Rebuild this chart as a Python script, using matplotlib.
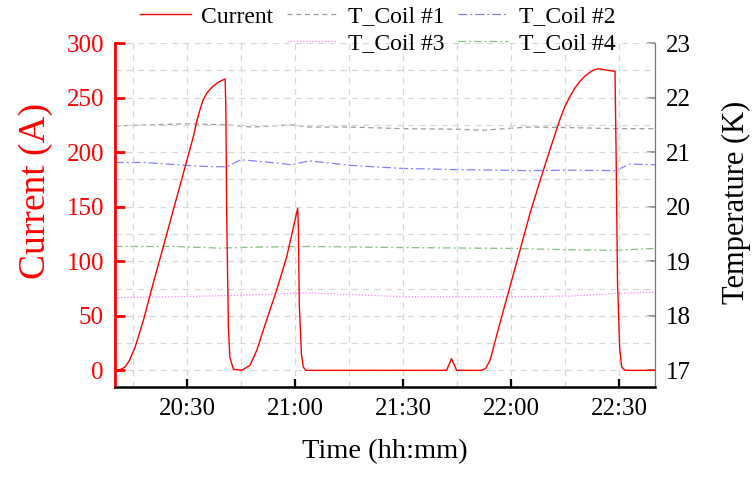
import matplotlib
matplotlib.use("Agg")
import matplotlib.pyplot as plt
import matplotlib.dates as mdates
from matplotlib.lines import Line2D
import pandas as pd

plt.rcParams["font.family"] = ["Liberation Serif", "DejaVu Serif"]

BASE = pd.Timestamp("2000-01-01 20:10")

# current, minutes after 20:10 and amps
cur_min = [0, 1, 2, 2.8, 4, 5.6, 7.9, 10.6, 13.4, 16.2, 19, 21.75, 22.7, 23.6, 24.5,
           25.5, 26.8, 28.25, 29.5, 30.6,
           30.8, 31.0, 31.5, 31.9, 32.9, 35.2, 37.5, 39.4, 42.1, 44.9, 47.7, 50.75,
           50.95, 51.2, 51.8, 52.3, 53, 92.1, 93.5, 94.9, 101.9, 103, 104.2, 106.9,
           109.7, 112.5, 115.3, 118.1, 120.8, 123.6, 125, 126.4, 127.8, 129.2, 130.5,
           131.9, 133, 134.25, 136.1, 138.9, 139.2, 139.6, 140.2, 140.75, 141.7, 150]
cur_amp = [0, 0.3, 1.5, 3, 9, 21.4, 45.9, 79.6, 113, 147, 180.6, 214, 228, 238.8, 248,
           254, 259, 263, 265.5, 267,
           240, 150, 40, 12, 1, 0, 4.6, 18.4, 46, 73.5, 104, 148.5,
           130, 60, 15, 3, 0, 0, 10.7, 0, 0, 2, 9.2, 42.9,
           76.5, 110, 144, 174, 202, 230, 242, 251, 259, 265, 269.5,
           273, 275.3, 276.4, 275.5, 274, 200, 80, 20, 3, 0, 0]

# coil temperatures (K)
t1_min = [0, 20, 31, 38, 49, 54, 65, 80, 95, 102, 115, 126, 139, 150]
t1_k = [21.48, 21.52, 21.50, 21.46, 21.50, 21.46, 21.46, 21.43, 21.42, 21.40, 21.46,
        21.45, 21.43, 21.43]
t2_min = [0, 8, 17, 24, 31, 35, 42, 49, 54, 65, 80, 95, 115, 126, 139, 143, 150]
t2_k = [20.81, 20.81, 20.77, 20.74, 20.73, 20.86, 20.82, 20.77, 20.84, 20.76, 20.70,
        20.68, 20.66, 20.67, 20.66, 20.78, 20.77]
t3_min = [0, 17, 31, 45, 54, 80, 110, 126, 139, 150]
t3_k = [18.33, 18.35, 18.37, 18.40, 18.42, 18.35, 18.35, 18.36, 18.41, 18.43]
t4_min = [0, 17, 29, 40, 54, 80, 110, 126, 139, 150]
t4_k = [19.27, 19.27, 19.24, 19.26, 19.27, 19.25, 19.235, 19.21, 19.20, 19.235]


def to_time(mins):
    return BASE + pd.to_timedelta(mins, unit="m")


fig = plt.figure(figsize=(7.55, 4.79), dpi=100)
ax = fig.add_axes([0.1523, 0.1927, 0.7152, 0.7175])
ax2 = ax.twinx()

ax2.plot(to_time(t1_min), t1_k, color="#9a9a9a", lw=0.9, ls=(0, (4, 3)), label="T_Coil #1")
ax2.plot(to_time(t2_min), t2_k, color="#8080ff", lw=0.9, ls=(0, (7, 2.5, 1.5, 2.5)), label="T_Coil #2")
ax2.plot(to_time(t3_min), t3_k, color="#ff80ff", lw=0.9, ls=(0, (1, 1.5)), label="T_Coil #3")
ax2.plot(to_time(t4_min), t4_k, color="#80c080", lw=0.9, ls=(0, (6, 2.5, 1.5, 2.5)), label="T_Coil #4")

ax.plot(to_time(cur_min), cur_amp, color="red", lw=1.0, label="Current")
ax.set_zorder(ax2.get_zorder() + 1)
ax.patch.set_visible(False)

ax.set_xlim(to_time(0), to_time(150))
ax.set_ylim(-15, 300)
ax2.set_ylim(16.7, 23)

ax.xaxis.set_major_locator(mdates.MinuteLocator(byminute=[0, 30]))
ax.xaxis.set_minor_locator(mdates.MinuteLocator(byminute=[0, 15, 30, 45]))
ax.xaxis.set_major_formatter(mdates.DateFormatter("%H:%M"))
ax.set_yticks(range(0, 301, 50))
ax.set_yticks(range(0, 301, 25), minor=True)
ax2.set_yticks(range(17, 24))

ax.grid(True, which="both", color="#d8d8d8", ls=(0, (5, 4)), lw=0.9)

for s in ["top", "right"]:
    ax.spines[s].set_visible(False)
for s in ["top", "left", "bottom"]:
    ax2.spines[s].set_visible(False)
ax.spines["left"].set_color("red")
ax.spines["left"].set_linewidth(2.0)
ax.spines["bottom"].set_linewidth(1.8)
ax2.spines["right"].set_color("#777777")
ax2.spines["right"].set_linewidth(0.9)

ax.tick_params(axis="y", which="major", direction="in", length=7, width=2.0,
               colors="red", labelsize=18, pad=8)
ax.tick_params(axis="y", which="minor", length=0)
ax.tick_params(axis="x", which="major", direction="in", length=6, width=1.6,
               labelsize=18, pad=8)
ax.tick_params(axis="x", which="minor", length=0)
ax2.tick_params(axis="y", direction="in", length=6, width=1.2, color="#888888",
                labelcolor="black", labelsize=18, pad=8)

ax.set_ylabel("Current (A)", fontsize=27, color="red")
ax.yaxis.set_label_coords(-0.115, 0.57)
ax2.set_ylabel("Temperature (K)", fontsize=22)
ax2.yaxis.set_label_coords(1.124, 0.535)
ax.set_xlabel("Time (hh:mm)", fontsize=20.5, labelpad=14)

lines = {l.get_label(): l for l in ax.get_lines() + ax2.get_lines()}
blank = Line2D([], [], color="none")
handles = [lines["Current"], blank, lines["T_Coil #1"], lines["T_Coil #3"],
           lines["T_Coil #2"], lines["T_Coil #4"]]
labels = ["Current", "", "T_Coil #1", "T_Coil #3", "T_Coil #2", "T_Coil #4"]
fig.legend(handles, labels, ncol=3, loc="upper left", bbox_to_anchor=(140 / 755, 1 - 6 / 479),
           frameon=False, fontsize=17, handlelength=2.15, handletextpad=0.45,
           columnspacing=0.55, labelspacing=0.2, borderpad=0, borderaxespad=0)

fig.savefig("out.png", dpi=100)
